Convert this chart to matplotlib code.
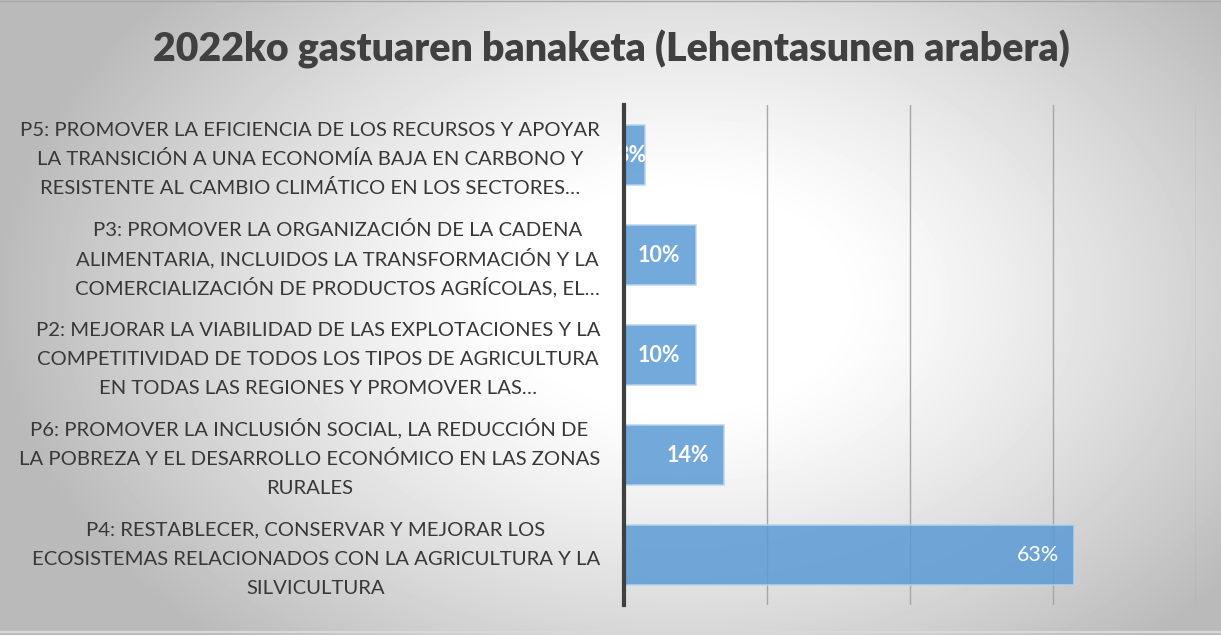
import numpy as np
import matplotlib
matplotlib.use("Agg")
import matplotlib.pyplot as plt
from matplotlib.transforms import offset_copy

# datos (de abajo hacia arriba, como en barh)
categorias = [
    "P4: RESTABLECER, CONSERVAR Y MEJORAR LOS\nECOSISTEMAS RELACIONADOS CON LA AGRICULTURA Y LA\nSILVICULTURA",
    "P6: PROMOVER LA INCLUSIÓN SOCIAL, LA REDUCCIÓN DE\nLA POBREZA Y EL DESARROLLO ECONÓMICO EN LAS ZONAS\nRURALES",
    "P2: MEJORAR LA VIABILIDAD DE LAS EXPLOTACIONES Y LA\nCOMPETITIVIDAD DE TODOS LOS TIPOS DE AGRICULTURA\nEN TODAS LAS REGIONES Y PROMOVER LAS…",
    "P3: PROMOVER LA ORGANIZACIÓN DE LA CADENA\nALIMENTARIA, INCLUIDOS LA TRANSFORMACIÓN Y LA\nCOMERCIALIZACIÓN DE PRODUCTOS AGRÍCOLAS, EL…",
    "P5: PROMOVER LA EFICIENCIA DE LOS RECURSOS Y APOYAR\nLA TRANSICIÓN A UNA ECONOMÍA BAJA EN CARBONO Y\nRESISTENTE AL CAMBIO CLIMÁTICO EN LOS SECTORES…",
]
valores = [0.63, 0.14, 0.10, 0.10, 0.03]
etiquetas = ["63%", "14%", "10%", "10%", "3%"]
negrita = [False, True, True, True, True]
titulo = "2022ko gastuaren banaketa (Lehentasunen arabera)"

plt.rcParams['font.family'] = ['Lato', 'DejaVu Sans']

fig = plt.figure(figsize=(12.21, 6.35), dpi=100)

# fondo con degradado radial gris
bg = fig.add_axes([0, 0, 1, 1], zorder=-10)
yy, xx = np.mgrid[0:635, 0:1221]
d = np.sqrt(((xx - 680) / 620.0) ** 2 + ((yy - 300) / 420.0) ** 2)
v = 1.0 - 0.27 * np.clip((d - 0.25) / 0.85, 0, 1) ** 1.2
bg.imshow(v, cmap='gray', vmin=0, vmax=1, aspect='auto', extent=[0, 1, 0, 1], origin='upper')
bg.set_xlim(0, 1)
bg.set_ylim(0, 1)
bg.axis('off')
bg.plot([0, 1], [0.998, 0.998], color='#a8a8a8', lw=1)
bg.plot([0, 1], [0.004, 0.004], color='#d8d8d8', lw=1.5)

ax = fig.add_axes([624 / 1221, 30 / 635, 572 / 1221, 500 / 635])
ax.patch.set_alpha(0)

y = np.arange(len(valores))
ax.barh(y, valores, height=0.6, color='#5b9bd5', alpha=0.85,
        edgecolor='#b8d4ee', linewidth=1.2, zorder=3)

ax.set_xlim(0, 0.8)
ax.set_ylim(-0.5, 4.5)
ax.set_xticks([0.2, 0.4, 0.6, 0.8])
ax.xaxis.grid(True, color='#a6a6a6', linewidth=1.0, zorder=1)
ax.set_axisbelow(True)
ax.tick_params(axis='x', length=0, labelbottom=False)
ax.set_yticks(y)
ax.tick_params(axis='y', length=0, labelleft=False)

for s in ['top', 'right', 'bottom']:
    ax.spines[s].set_visible(False)
ax.spines['left'].set_color('#404040')
ax.spines['left'].set_linewidth(3)
ax.spines['left'].set_zorder(5)

# etiquetas de categoría: una línea por texto, centradas entre sí
r = fig.canvas.get_renderer()
fs = 14.6
for yi, cat in zip(y, categorias):
    lineas = cat.split('\n')
    anchos = []
    for linea in lineas:
        t = fig.text(0, 0, linea, fontsize=fs)
        anchos.append(t.get_window_extent(r).width)
        t.remove()
    xc = -(24 + max(anchos) / 2)
    n = len(lineas)
    for k, linea in enumerate(lineas):
        dy = ((n - 1) / 2 - k) * 29.5 - 10
        tr = offset_copy(ax.get_yaxis_transform(), fig=fig, x=xc, y=dy, units='dots')
        ax.text(0, yi, linea, transform=tr, fontsize=fs, color='#383838',
                ha='center', va='baseline', clip_on=False)

for yi, val, lab, b in zip(y, valores, etiquetas, negrita):
    off = -11 if val > 0.05 else 1
    ax.annotate(lab, (val, yi), xytext=(off, 0), textcoords='offset points',
                ha='right', va='center', color='white', fontsize=15.5,
                fontweight='bold' if b else 'normal', zorder=4)

fig.text(0.501, 0.922, titulo, ha='center', va='center', fontsize=28.3,
         fontweight='heavy', color='#404040')

fig.savefig('out.png', dpi=100)
